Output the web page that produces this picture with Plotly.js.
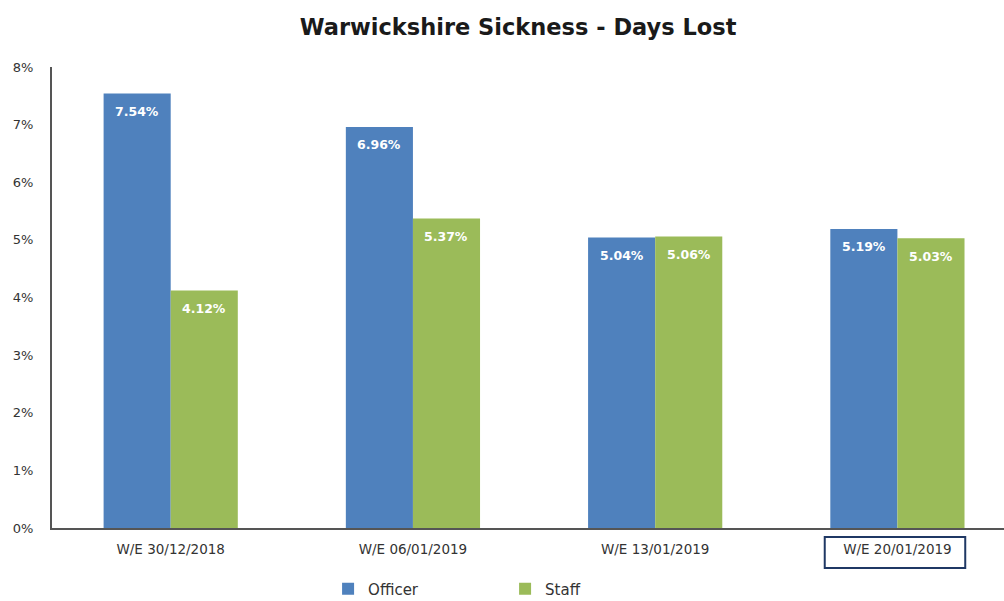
<!DOCTYPE html>
<html>
<head>
<meta charset="utf-8">
<script src="https://cdn.plot.ly/plotly-3.0.1.min.js"></script>
<style>html,body{margin:0;padding:0;background:#fff;}#chart{width:1004px;height:601px;}</style>
</head>
<body>
<div id="chart"></div>
<script>
const categories = ["W/E 30/12/2018", "W/E 06/01/2019", "W/E 13/01/2019", "W/E 20/01/2019"];
const officer = [7.54, 6.96, 5.04, 5.19];
const staff = [4.12, 5.37, 5.06, 5.03];
const yTicks = [0, 1, 2, 3, 4, 5, 6, 7, 8];

const fmt = v => v.toFixed(2) + "%";
const FONT = "DejaVu Sans, Verdana, sans-serif";
const labelFont = {family: FONT, size: 12.5, color: "#ffffff", weight: "bold"};

const traces = [
  {type: "bar", name: "Officer", x: categories, y: officer,
   marker: {color: "#4f81bd"}, hoverinfo: "y"},
  {type: "bar", name: "Staff", x: categories, y: staff,
   marker: {color: "#9bbb59"}, hoverinfo: "y"}
];

// value labels placed just under each bar top
const halfBar = 0.1385;
const annotations = [];
categories.forEach((c, i) => {
  annotations.push({x: i - halfBar, y: officer[i], xref: "x", yref: "y", text: "<b>" + fmt(officer[i]) + "</b>",
    showarrow: false, yanchor: "middle", yshift: -18, font: labelFont});
  annotations.push({x: i + halfBar, y: staff[i], xref: "x", yref: "y", text: "<b>" + fmt(staff[i]) + "</b>",
    showarrow: false, yanchor: "middle", yshift: -18, font: labelFont});
});

const layout = {
  width: 1004, height: 601,
  margin: {l: 52, r: 0, t: 67, b: 73},
  paper_bgcolor: "#ffffff", plot_bgcolor: "#ffffff",
  title: {text: "<b>Warwickshire Sickness - Days Lost</b>", x: 0.516, xanchor: "center", y: 0.955, yanchor: "middle",
          font: {family: FONT, size: 22.5, color: "#1a1a1a"}},
  barmode: "group", bargap: 0.446, bargroupgap: 0,
  showlegend: true,
  legend: {orientation: "h", x: 0.29, xanchor: "left", xref: "paper", yref: "container", y: 0.02, yanchor: "middle",
           font: {family: FONT, size: 15, color: "#333"},
           entrywidth: 132, entrywidthmode: "pixels", traceorder: "normal"},
  xaxis: {type: "category", range: [-0.49, 3.44], showline: true, linecolor: "#555", linewidth: 2,
          ticks: "", tickfont: {family: FONT, size: 13.5, color: "#333"}, ticklabelstandoff: 8,
          showgrid: false, zeroline: false},
  yaxis: {range: [0, 8], tickvals: yTicks, ticktext: yTicks.map(v => v + "%"),
          showline: true, linecolor: "#555", linewidth: 2, ticks: "", showgrid: false, zeroline: false,
          tickfont: {family: FONT, size: 13, color: "#333"}, ticklabelstandoff: 14},
  annotations: annotations,
  shapes: [{type: "rect", xref: "x", yref: "paper", x0: 2.70, x1: 3.28, y0: -0.0195, y1: -0.087,
            line: {color: "#1f3864", width: 2}, fillcolor: "rgba(0,0,0,0)"}]
};

Plotly.newPlot("chart", traces, layout, {displayModeBar: false, staticPlot: true});
</script>
</body>
</html>
